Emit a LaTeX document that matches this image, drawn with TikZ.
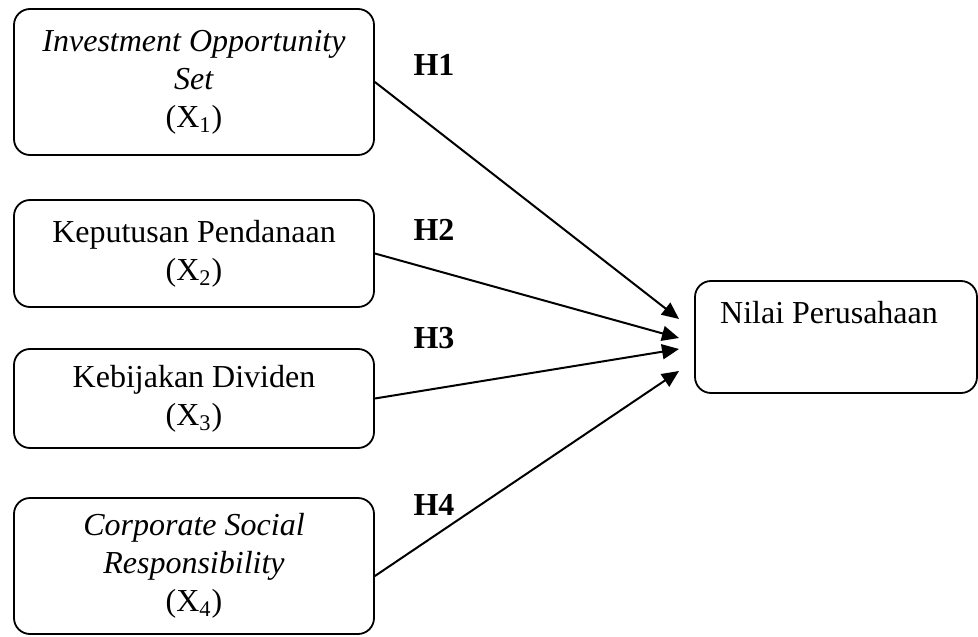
\documentclass[tikz,border=0pt]{standalone}
\usepackage{fontspec}
\setmainfont{Liberation Serif}
\usetikzlibrary{arrows.meta}
\begin{document}
\begin{tikzpicture}[x=0.5pt, y=-0.5pt, >={Triangle[length=8.5pt, width=7.5pt]},
	kotak/.style={draw, line width=0.9pt, rounded corners=8pt, align=center, inner sep=0pt, font=\fontsize{16}{19}\selectfont},
	hipo/.style={font=\fontsize{16}{19}\selectfont\bfseries}]
	\useasboundingbox (0,0) rectangle (978,636);
	
	% Variabel
	\node[kotak, minimum width=180pt, minimum height=73pt] (ios) at (194,82) {\textit{Investment Opportunity}\\\textit{Set}\\(X\textsubscript{1})};
	\node[kotak, minimum width=180pt, minimum height=53.5pt] (kp) at (194,253.5) {Keputusan Pendanaan\\(X\textsubscript{2})};
	\node[kotak, minimum width=180pt, minimum height=49.5pt] (kd) at (194,398.5) {Kebijakan Dividen\\(X\textsubscript{3})};
	\node[kotak, minimum width=180pt, minimum height=68pt] (csr) at (194,566) {\textit{Corporate Social}\\\textit{Responsibility}\\(X\textsubscript{4})};
	\node[kotak, minimum width=141pt, minimum height=56pt] (nilai) at (836,337) {Nilai Perusahaan\hspace*{7pt}\\\strut};
	
	% Ujung panah
	\coordinate (t1) at (679,319);
	\coordinate (t2) at (679,338);
	\coordinate (t3) at (679,349);
	\coordinate (t4) at (679,371);
	
	% Panah
	\draw[->, line width=1pt] (ios.east) -- (t1);
	\draw[->, line width=1pt] (kp.east) -- (t2);
	\draw[->, line width=1pt] (kd.east) -- (t3);
	\draw[->, line width=1pt] ([yshift=-5pt]csr.east) -- (t4);
	
	% Hipotesis
	\node[hipo] (h1) at (434,65) {H1};
	\node[hipo] (h2) at (434,230) {H2};
	\node[hipo] (h3) at (434,338) {H3};
	\node[hipo] (h4) at (434,505) {H4};
\end{tikzpicture}
\end{document}
